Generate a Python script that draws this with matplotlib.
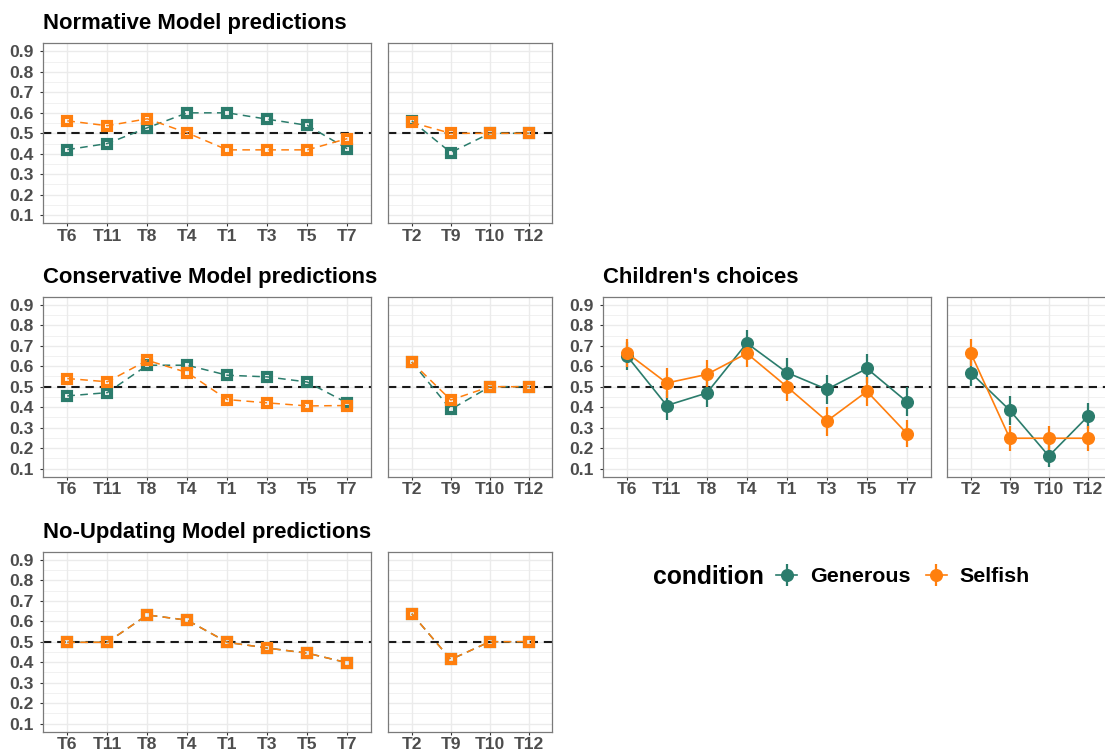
import numpy as np
import matplotlib.pyplot as plt

plt.rcParams['font.family'] = ['Liberation Sans', 'DejaVu Sans']
plt.rcParams['font.weight'] = 'bold'

# trial order on the x axes
main_trials = ['T6', 'T11', 'T8', 'T4', 'T1', 'T3', 'T5', 'T7']
side_trials = ['T2', 'T9', 'T10', 'T12']
y_ticks = [0.1, 0.2, 0.3, 0.4, 0.5, 0.6, 0.7, 0.8, 0.9]
y_tick_labels = ['0.1', '0.2', '0.3', '0.4', '0.5', '0.6', '0.7', '0.8', '0.9']
conditions = ['Generous', 'Selfish']

# Normative model
norm_gen_main = [0.42, 0.45, 0.527, 0.60, 0.60, 0.569, 0.539, 0.424]
norm_sel_main = [0.561, 0.537, 0.571, 0.502, 0.419, 0.419, 0.419, 0.474]
norm_gen_side = [0.561, 0.406, 0.50, 0.50]
norm_sel_side = [0.553, 0.50, 0.50, 0.50]

# Conservative model
cons_gen_main = [0.455, 0.471, 0.605, 0.605, 0.556, 0.548, 0.523, 0.42]
cons_sel_main = [0.54, 0.524, 0.629, 0.569, 0.437, 0.421, 0.406, 0.408]
cons_gen_side = [0.621, 0.389, 0.50, 0.50]
cons_sel_side = [0.621, 0.435, 0.50, 0.50]

# No-updating model (same for both conditions)
noup_gen_main = [0.497, 0.497, 0.631, 0.605, 0.497, 0.469, 0.444, 0.397]
noup_sel_main = [0.497, 0.497, 0.631, 0.605, 0.497, 0.469, 0.444, 0.397]
noup_gen_side = [0.637, 0.413, 0.50, 0.50]
noup_sel_side = [0.637, 0.413, 0.50, 0.50]

# Children's choices (mean, se)
kid_gen_main = [0.652, 0.408, 0.469, 0.713, 0.569, 0.487, 0.589, 0.426]
kid_gen_main_se = [0.068, 0.07, 0.07, 0.066, 0.071, 0.072, 0.069, 0.071]
kid_sel_main = [0.666, 0.518, 0.56, 0.663, 0.50, 0.332, 0.477, 0.271]
kid_sel_main_se = [0.068, 0.074, 0.072, 0.068, 0.072, 0.071, 0.072, 0.064]
kid_gen_side = [0.569, 0.385, 0.161, 0.355]
kid_gen_side_se = [0.064, 0.07, 0.052, 0.064]
kid_sel_side = [0.665, 0.248, 0.248, 0.248]
kid_sel_side_se = [0.066, 0.062, 0.062, 0.062]

teal = '#2B7C6C'
orange = '#FF7F0E'
W, H = 1105, 756

fig = plt.figure(figsize=(W / 100, H / 100), dpi=100)


def add_ax(x0, top, w, h):
    return fig.add_axes([x0 / W, 1 - (top + h) / H, w / W, h / H])


def style(ax, labels, show_y):
    n = len(labels)
    ax.set_xlim(-0.6, n - 0.4)
    ax.set_ylim(0.06, 0.94)
    ax.set_xticks(range(n))
    ax.set_xticklabels(labels)
    ax.set_yticks(y_ticks)
    ax.set_yticklabels(y_tick_labels)
    ax.set_yticks(np.arange(0.15, 0.9, 0.1), minor=True)
    ax.grid(True, which='major', color='#EBEBEB', lw=1.0, zorder=0)
    ax.grid(True, which='minor', axis='y', color='#EBEBEB', lw=0.5, zorder=0)
    ax.set_axisbelow(True)
    ax.tick_params(axis='both', which='major', length=2.5, width=0.8, color='#333333',
                   labelsize=12.6, labelcolor='#4D4D4D')
    ax.tick_params(axis='x', pad=1.3)
    ax.tick_params(axis='y', which='minor', length=0)
    ax.tick_params(axis='y', pad=4.2)
    for lab in ax.get_xticklabels() + ax.get_yticklabels():
        lab.set_fontweight('bold')
    if not show_y:
        ax.tick_params(axis='y', left=False, labelleft=False)
    for s in ax.spines.values():
        s.set_color('#7A7A7A')
        s.set_linewidth(0.9)
    ax.axhline(0.5, color='#1A1A1A', lw=1.5, ls=(0, (4, 2.8)), zorder=2)


def model_panel(ax, labels, gen, sel):
    x = np.arange(len(labels))
    for vals, col in [(gen, teal), (sel, orange)]:
        ax.plot(x, vals, ls=(0, (5, 3.5)), lw=1.1, color=col, marker='s', ms=6.4,
                mew=3.0, mfc='none', mec=col, zorder=3)


def kid_panel(ax, labels, gen, gen_se, sel, sel_se):
    x = np.arange(len(labels))
    hs = []
    for vals, se, col, name in [(gen, gen_se, teal, 'Generous'), (sel, sel_se, orange, 'Selfish')]:
        h = ax.errorbar(x, vals, yerr=se, fmt='-o', color=col, lw=1.2, ms=8.4,
                        elinewidth=1.6, capsize=0, zorder=3, label=name)
        hs.append(h)
    return hs


rows = [
    ('Normative Model predictions', 43.3, norm_gen_main, norm_sel_main, norm_gen_side, norm_sel_side),
    ('Conservative Model predictions', 296.7, cons_gen_main, cons_sel_main, cons_gen_side, cons_sel_side),
    ('No-Updating Model predictions', 551.7, noup_gen_main, noup_sel_main, noup_gen_side, noup_sel_side),
]
for title, top, gm, sm, gs, ss in rows:
    a1 = add_ax(43.3, top, 328, 180)
    a2 = add_ax(388.3, top, 164, 180)
    style(a1, main_trials, True)
    style(a2, side_trials, False)
    model_panel(a1, main_trials, gm, sm)
    model_panel(a2, side_trials, gs, ss)
    a1.set_title(title, loc='left', fontsize=15.9, fontweight='bold', pad=10, color='black')

# children's choices
k1 = add_ax(602.7, 296.7, 328.3, 180)
k2 = add_ax(947.3, 296.7, 164, 180)
style(k1, main_trials, True)
style(k2, side_trials, False)
handles = kid_panel(k1, main_trials, kid_gen_main, kid_gen_main_se, kid_sel_main, kid_sel_main_se)
kid_panel(k2, side_trials, kid_gen_side, kid_gen_side_se, kid_sel_side, kid_sel_side_se)
k1.set_title("Children's choices", loc='left', fontsize=15.9, fontweight='bold', pad=10, color='black')

# legend
fig.text(653 / W, 1 - 577 / H, 'condition', fontsize=17.8, fontweight='bold', va='center', ha='left')
fig.legend(handles, conditions, loc='center left', bbox_to_anchor=(776 / W, 1 - 577 / H),
           ncol=2, frameon=False, borderpad=0, borderaxespad=0, handlelength=1.0,
           handletextpad=0.6, columnspacing=0.7, prop={'size': 15.4, 'weight': 'bold'})

fig.savefig('out.png', dpi=100)
